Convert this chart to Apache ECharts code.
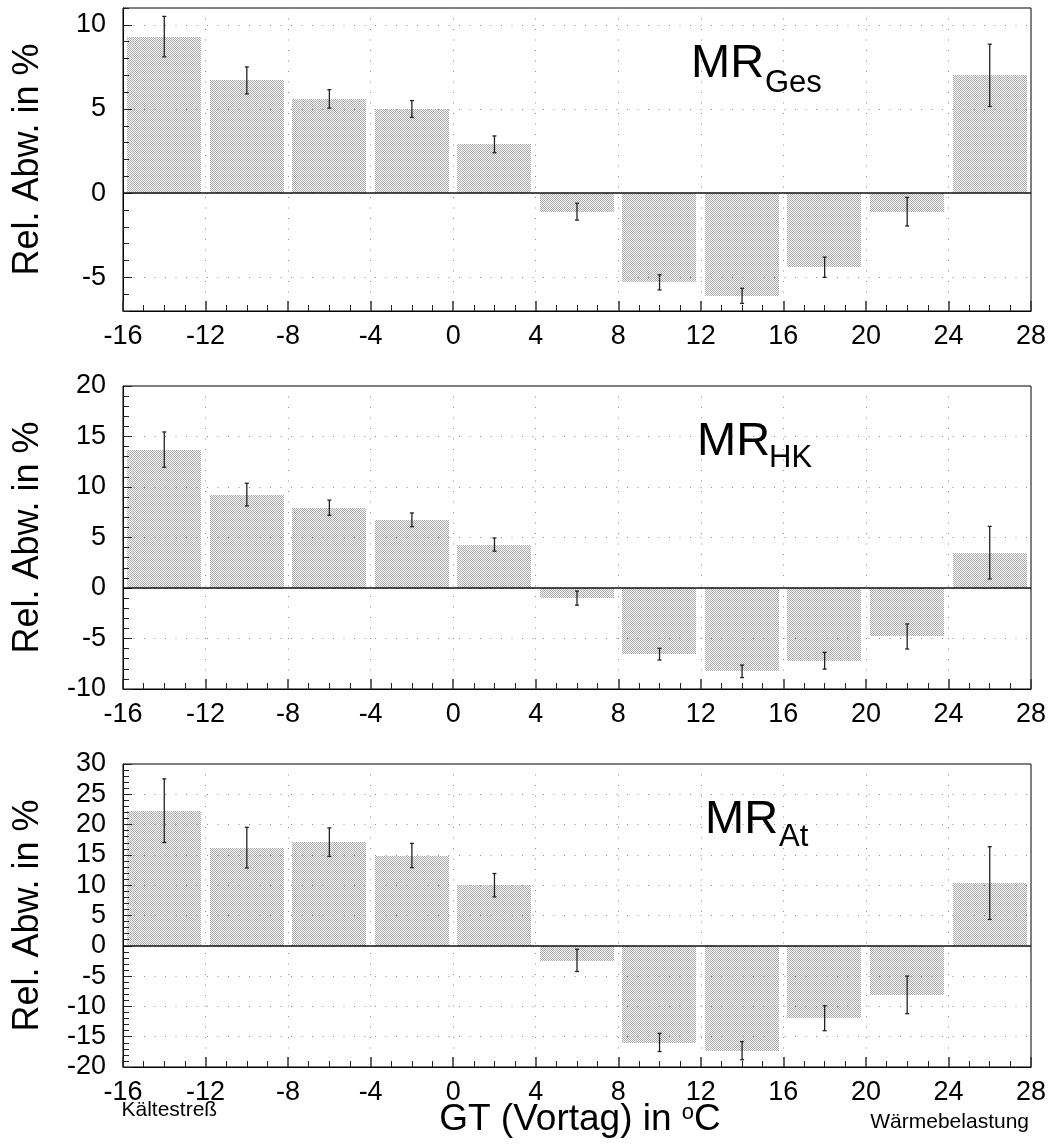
<!DOCTYPE html>
<html>
<head>
<meta charset="utf-8">
<script src="https://cdn.jsdelivr.net/npm/echarts@6/dist/echarts.min.js"></script>
<style>html,body{margin:0;padding:0;background:#fff}#c{width:1052px;height:1146px}</style>
</head>
<body>
<div id="c"></div>
<script>
// ---- data ----
const binCenters = [-14, -10, -6, -2, 2, 6, 10, 14, 18, 22, 26];
const mrGes    = [9.3, 6.7, 5.6, 5.0, 2.9, -1.1, -5.3, -6.1, -4.4, -1.1, 7.0];
const mrGesErr = [1.2, 0.8, 0.55, 0.5, 0.5, 0.5, 0.45, 0.45, 0.6, 0.85, 1.85];
const mrHK     = [13.7, 9.25, 7.95, 6.75, 4.3, -1.0, -6.55, -8.25, -7.2, -4.8, 3.5];
const mrHKErr  = [1.75, 1.12, 0.75, 0.68, 0.65, 0.7, 0.58, 0.62, 0.83, 1.24, 2.6];
const mrAt     = [22.3, 16.2, 17.1, 14.9, 10.0, -2.4, -15.95, -17.3, -11.95, -8.1, 10.35];
const mrAtErr  = [5.25, 3.35, 2.35, 2.0, 1.93, 1.84, 1.5, 1.5, 2.06, 3.1, 6.0];
const panelMain = ['MR', 'MR', 'MR'];
const panelSub  = ['Ges', 'HK', 'At'];
const yMins = [-7, -10, -20];
const yMaxs = [11, 20, 30];
const xMin = -16, xMax = 28, xStep = 4;
const yStep = 5;
const yTitle = 'Rel. Abw. in %';
const xTitleMain = 'GT (Vortag) in ', xTitleSup = 'o', xTitleEnd = 'C';
const leftNote = 'Kältestreß', rightNote = 'Wärmebelastung';

// ---- layout/style ----
const FONT = '"Liberation Sans", Arial, Helvetica, sans-serif';
const gridTops = [8, 386, 764];
const gridH = 303;
const halfBar = 1.8;

const pc = document.createElement('canvas');
pc.width = 2; pc.height = 2;
const pctx = pc.getContext('2d');
pctx.fillStyle = '#f8f8f8'; pctx.fillRect(0, 0, 2, 2);
pctx.fillStyle = '#ababab'; pctx.fillRect(0, 0, 1, 1); pctx.fillRect(1, 1, 1, 1);
const barPattern = { image: pc, repeat: 'repeat' };

const values = [mrGes, mrHK, mrAt];
const errors = [mrGesErr, mrHKErr, mrAtErr];

function renderItem(params, api) {
  const x = api.value(0), v = api.value(1), e = api.value(2);
  const a = api.coord([x - halfBar, 0]);
  const b = api.coord([x + halfBar, v]);
  const t = api.coord([x, v + e]);
  const d = api.coord([x, v - e]);
  const cap = 2;
  const es = { stroke: '#222', lineWidth: 1.3 };
  return {
    type: 'group',
    children: [
      { type: 'rect', shape: { x: Math.round(Math.min(a[0], b[0])), y: Math.round(Math.min(a[1], b[1])), width: Math.round(Math.abs(b[0] - a[0])), height: Math.round(Math.abs(b[1] - a[1])) }, style: { fill: barPattern } },
      { type: 'line', shape: { x1: t[0], y1: t[1], x2: d[0], y2: d[1] }, style: es },
      { type: 'line', shape: { x1: t[0] - cap, y1: t[1], x2: t[0] + cap, y2: t[1] }, style: es },
      { type: 'line', shape: { x1: d[0] - cap, y1: d[1], x2: d[0] + cap, y2: d[1] }, style: es }
    ]
  };
}

const grids = [], xAxes = [], yAxes = [], series = [];
const dotted = { color: '#8a8a8a', type: [1, 9.5], width: 1 };
for (let i = 0; i < 3; i++) {
  grids.push({ left: 123, right: 21, top: gridTops[i], height: gridH, show: true, borderColor: '#000', borderWidth: 1, backgroundColor: 'transparent' });
  xAxes.push({
    type: 'value', gridIndex: i, min: xMin, max: xMax, interval: xStep, z: 3,
    axisLine: { onZero: false, lineStyle: { color: '#000', width: 1 } },
    axisTick: { inside: true, length: 10, lineStyle: { color: '#333', width: 1.5 } },
    minorTick: { show: true, splitNumber: 4, length: 6, lineStyle: { color: '#222', width: 1 } },
    axisLabel: { margin: 12, fontSize: 27, color: '#000', fontFamily: FONT },
    splitLine: { show: true, showMinLine: false, showMaxLine: false, lineStyle: dotted }
  });
  const niceMin = yMins[i] % yStep === 0;
  const major = {
    type: 'value', gridIndex: i, min: yMins[i], max: yMaxs[i], position: 'left', z: 3,
    axisLine: { onZero: false, lineStyle: { color: '#000', width: 1 } },
    axisTick: { inside: true, length: 9, lineStyle: { color: '#222', width: 1 } },
    axisLabel: { margin: 17, fontSize: 27, color: '#000', fontFamily: FONT, showMinLabel: niceMin, showMaxLabel: niceMin },
    splitLine: { show: true, showMinLine: false, showMaxLine: false, lineStyle: dotted },
    name: yTitle, nameLocation: 'middle', nameGap: 77,
    nameTextStyle: { fontSize: 36, color: '#000', fontFamily: FONT }
  };
  if (niceMin) major.interval = yStep; else major.splitNumber = 4;
  yAxes.push(major);
  yAxes.push({
    type: 'value', gridIndex: i, min: yMins[i], max: yMaxs[i], interval: 1, position: 'left', z: 3,
    axisLine: { show: false, onZero: false }, axisLabel: { show: false }, splitLine: { show: false },
    axisTick: { inside: true, length: 6, lineStyle: { color: '#222', width: 1 } }
  });
  series.push({
    type: 'custom', xAxisIndex: i, yAxisIndex: 2 * i, clip: true, z: 2,
    renderItem: renderItem,
    data: binCenters.map((x, j) => [x, values[i][j], errors[i][j]]),
    markLine: {
      silent: true, symbol: ['none', 'none'], label: { show: false },
      lineStyle: { color: '#111', type: 'solid', width: 1.5 },
      data: [{ yAxis: 0 }]
    }
  });
}

const mainPos = [[691, 64], [697, 442], [705, 820]];
const subPos = [[765, 83], [769, 458], [779, 837]];
const graphics = [];
for (let i = 0; i < 3; i++) {
  graphics.push({ type: 'text', x: mainPos[i][0], y: mainPos[i][1], z: 10,
    style: { text: panelMain[i], font: '47px ' + FONT, fill: '#000', align: 'left', textAlign: 'left', verticalAlign: 'middle', textVerticalAlign: 'middle' } });
  graphics.push({ type: 'text', x: subPos[i][0], y: subPos[i][1], z: 10,
    style: { text: panelSub[i], font: '31px ' + FONT, fill: '#000', align: 'left', textAlign: 'left', verticalAlign: 'middle', textVerticalAlign: 'middle' } });
}
graphics.push({ type: 'text', x: 121.5, y: 1110, z: 10,
  style: { text: leftNote, font: '21px ' + FONT, fill: '#000', align: 'left', textAlign: 'left', verticalAlign: 'middle', textVerticalAlign: 'middle' } });
graphics.push({ type: 'text', x: 1029, y: 1122, z: 10,
  style: { text: rightNote, font: '21px ' + FONT, fill: '#000', align: 'right', textAlign: 'right', verticalAlign: 'middle', textVerticalAlign: 'middle' } });
graphics.push({ type: 'text', x: 580, y: 1120, z: 10,
  style: {
    text: '{a|' + xTitleMain + '}{s|' + xTitleSup + '}{a|' + xTitleEnd + '}',
    rich: {
      a: { fontSize: 37, fontFamily: FONT, fill: '#000', color: '#000' },
      s: { fontSize: 22, fontFamily: FONT, fill: '#000', color: '#000', verticalAlign: 'top', lineHeight: 14 }
    },
    align: 'center', textAlign: 'center', verticalAlign: 'middle', textVerticalAlign: 'middle'
  } });

const chart = echarts.init(document.getElementById('c'), null, { renderer: 'canvas', width: 1052, height: 1146 });
chart.setOption({
  animation: false,
  backgroundColor: '#fff',
  grid: grids,
  xAxis: xAxes,
  yAxis: yAxes,
  series: series,
  graphic: graphics
});
</script>
</body>
</html>
